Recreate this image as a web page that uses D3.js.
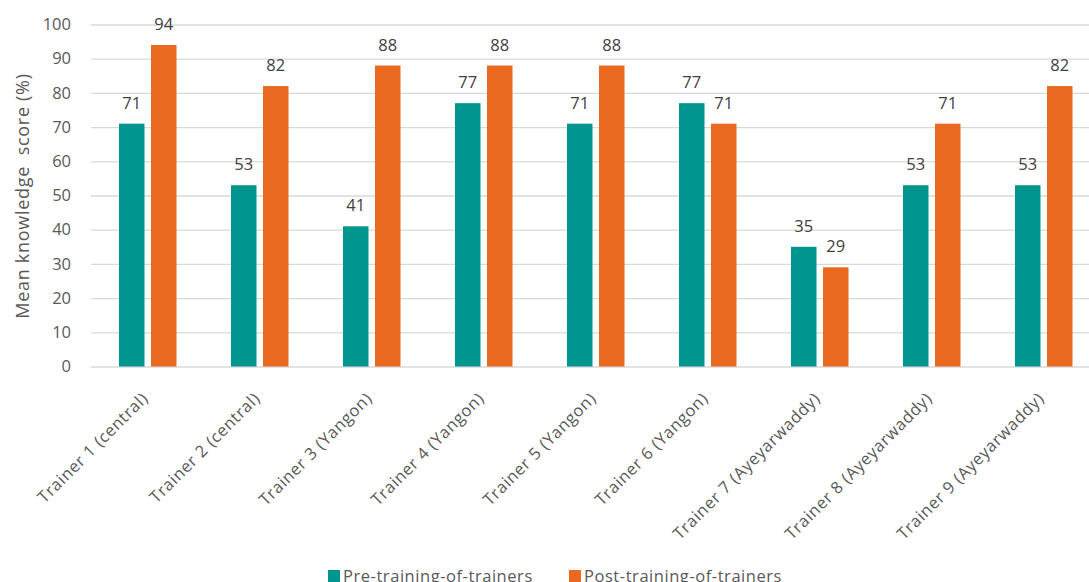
<!DOCTYPE html>
<html>
<head>
<meta charset="utf-8">
<title>Mean knowledge score by trainer</title>
<script src="https://d3js.org/d3.v7.min.js"></script>
<style>
    body { margin: 0; background: #fff; }
    svg { display: block; font-family: "Open Sans", sans-serif; }
</style>
</head>
<body>
<script>
    // categories and series
    let trainers = [
        "Trainer 1 (central)",
        "Trainer 2 (central)",
        "Trainer 3 (Yangon)",
        "Trainer 4 (Yangon)",
        "Trainer 5 (Yangon)",
        "Trainer 6 (Yangon)",
        "Trainer 7 (Ayeyarwaddy)",
        "Trainer 8 (Ayeyarwaddy)",
        "Trainer 9 (Ayeyarwaddy)",
    ];
    let seriesNames = ["Pre-training-of-trainers", "Post-training-of-trainers"];
    let preScores  = [71, 53, 41, 77, 71, 77, 35, 53, 53];
    let postScores = [94, 82, 88, 88, 88, 71, 29, 71, 82];
    let yTicks = [0, 10, 20, 30, 40, 50, 60, 70, 80, 90, 100];

    let colors = ["#009690", "#E8691F"];
    let textColor = "#595959";

    let W = 1089, H = 582;
    let left = 91, plotW = 1008;
    let fs = "16.5px";

    let svg = d3.select("body").append("svg").attr("width", W).attr("height", H);

    let x = d3.scaleBand().domain(trainers).range([left, left + plotW]);
    let y = d3.scaleLinear().domain([0, 100]).range([366.5, 24.5]);

    // gridlines + y labels
    let yAxis = svg.append("g").attr("transform", `translate(${left},0)`)
        .call(d3.axisLeft(y).tickValues(yTicks).tickSize(-plotW).tickPadding(20));
    yAxis.select(".domain").remove();
    yAxis.selectAll(".tick line").attr("stroke", "#d9d9d9").attr("stroke-width", 1.3);
    yAxis.selectAll(".tick text").attr("fill", textColor).style("font-size", fs)
        .style("font-family", "'Open Sans', sans-serif");

    // y title
    svg.append("text")
        .attr("transform", `translate(29,196) rotate(-90)`)
        .attr("text-anchor", "middle")
        .attr("fill", textColor)
        .style("font-size", "18px")
        .style("letter-spacing", "0.7px")
        .style("white-space", "pre")
        .text("Mean knowledge  score (%)");

    // bars
    let barW = 25.5, gap = 6.5, offs = 28;
    let rows = trainers.map((t, i) => ({t, vals: [preScores[i], postScores[i]]}));

    let groups = svg.append("g").selectAll("g").data(rows).enter().append("g")
        .attr("transform", d => `translate(${x(d.t)},0)`);

    groups.selectAll("rect").data(d => d.vals).enter().append("rect")
        .attr("x", (v, j) => offs + j * (barW + gap))
        .attr("y", v => y(v))
        .attr("width", barW)
        .attr("height", v => y(0) - y(v))
        .attr("fill", (v, j) => colors[j]);

    groups.selectAll("text").data(d => d.vals).enter().append("text")
        .attr("x", (v, j) => offs + j * (barW + gap) + barW / 2)
        .attr("y", v => y(v) - 15)
        .attr("text-anchor", "middle")
        .attr("fill", "#404040")
        .style("font-size", fs)
        .text(v => v);

    // x labels, rotated
    svg.append("g").selectAll("text").data(trainers).enter().append("text")
        .attr("transform", d => `translate(${x(d) + x.bandwidth() / 2 + 2},${y(0) + 33}) rotate(-45)`)
        .attr("text-anchor", "end")
        .attr("fill", textColor)
        .style("font-size", fs)
        .style("letter-spacing", "0.6px")
        .text(d => d);

    // legend (cut by the bottom edge, as in the original)
    let legX = [328, 569];
    let leg = svg.append("g").selectAll("g").data(seriesNames).enter().append("g")
        .attr("transform", (d, i) => `translate(${legX[i]},570)`);
    leg.append("rect").attr("width", 12).attr("height", 12).attr("fill", (d, i) => colors[i]);
    leg.append("text").attr("x", 15).attr("y", 11.5)
        .attr("fill", textColor).style("font-size", fs).style("letter-spacing", "0.55px")
        .text(d => d);
</script>
</body>
</html>
